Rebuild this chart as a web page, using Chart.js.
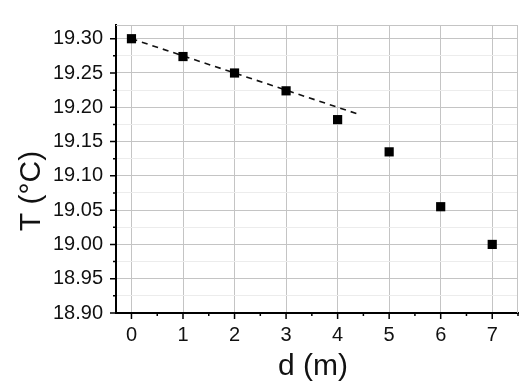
<!DOCTYPE html>
<html>
<head>
<meta charset="utf-8">
<script src="https://cdn.jsdelivr.net/npm/chart.js@4"></script>
<style>
  html, body { margin: 0; padding: 0; background: #fff; }
  canvas { display: block; }
</style>
</head>
<body>
<canvas id="chart" width="530" height="392"></canvas>
<script>
// measured points, d in metres and T in degrees C
const distances = [0, 1, 2, 3, 4, 5, 6, 7];
const temps = [19.30, 19.274, 19.25, 19.224, 19.182, 19.135, 19.055, 19.00];
// dashed linear fit over the first metres
const fitX = [0, 4.4];
const fitY = [19.30, 19.19];

const xTitle = 'd (m)';
const yTitle = 'T (°C)';

const FONT = "'Liberation Sans', Arial, sans-serif";
Chart.defaults.font.family = FONT;
Chart.defaults.color = '#111';

function onStep(v, step) {
  const r = v / step;
  return Math.abs(r - Math.round(r)) < 1e-6;
}

// little tick marks + top/right frame + axis titles
const decor = {
  id: 'decor',
  afterDraw(chart) {
    const ctx = chart.ctx;
    const a = chart.chartArea;
    const xs = chart.scales.x, ys = chart.scales.y;
    ctx.save();
    ctx.strokeStyle = '#c4c4c4';
    ctx.lineWidth = 1;
    ctx.beginPath();
    ctx.moveTo(a.left, a.top + 0.5); ctx.lineTo(a.right, a.top + 0.5);
    ctx.moveTo(a.right - 0.5, a.top); ctx.lineTo(a.right - 0.5, a.bottom);
    ctx.stroke();

    ctx.strokeStyle = '#000';
    ctx.lineWidth = 1.5;
    ctx.beginPath();
    xs.ticks.forEach(t => {
      const px = xs.getPixelForValue(t.value);
      const len = onStep(t.value, 1) ? 6 : 3;
      ctx.moveTo(px, a.bottom); ctx.lineTo(px, a.bottom + len);
    });
    ys.ticks.forEach(t => {
      const py = ys.getPixelForValue(t.value);
      const len = onStep(t.value, 0.05) ? 6 : 3;
      ctx.moveTo(a.left, py); ctx.lineTo(a.left - len, py);
    });
    ctx.stroke();

    ctx.fillStyle = '#111';
    ctx.font = '30px ' + FONT;
    ctx.textAlign = 'center';
    ctx.textBaseline = 'middle';
    ctx.fillText(xTitle, (a.left + a.right) / 2 - 4, 367);
    ctx.translate(32, 191);
    ctx.rotate(-Math.PI / 2);
    ctx.fillText(yTitle, 0, 0);
    ctx.restore();
  }
};

new Chart(document.getElementById('chart'), {
  type: 'scatter',
  data: {
    datasets: [
      {
        label: 'T',
        data: distances.map((d, i) => ({ x: d, y: temps[i] })),
        pointStyle: 'rect',
        pointRadius: 6.5,
        backgroundColor: '#000',
        borderColor: '#000',
        borderWidth: 0
      },
      {
        type: 'line',
        label: 'fit',
        data: fitX.map((d, i) => ({ x: d, y: fitY[i] })),
        borderColor: '#111',
        borderWidth: 1.6,
        borderDash: [6, 5],
        pointRadius: 0,
        fill: false
      }
    ]
  },
  options: {
    responsive: false,
    animation: false,
    layout: { padding: { top: 18, right: 12, left: 0, bottom: 0 } },
    plugins: { legend: { display: false }, tooltip: { enabled: false } },
    scales: {
      x: {
        type: 'linear',
        min: -0.3,
        max: 7.5,
        afterFit(s) { s.height = 79; },
        border: { color: '#000', width: 2 },
        grid: {
          drawTicks: false,
          color: c => onStep(c.tick.value, 1) ? '#c4c4c4' : 'rgba(0,0,0,0)'
        },
        ticks: {
          stepSize: 0.5,
          includeBounds: false,
          autoSkip: false,
          maxRotation: 0,
          padding: 10,
          font: { size: 20 },
          callback: v => onStep(v, 1) ? String(Math.round(v)) : ''
        }
      },
      y: {
        type: 'linear',
        min: 18.9,
        max: 19.32,
        afterFit(s) { s.width = 116; },
        border: { color: '#000', width: 2 },
        grid: {
          drawTicks: false,
          color: c => onStep(c.tick.value, 0.05) ? '#c4c4c4' : '#ececec'
        },
        ticks: {
          stepSize: 0.025,
          includeBounds: false,
          autoSkip: false,
          padding: 13,
          font: { size: 20 },
          callback: v => onStep(v, 0.05) ? v.toFixed(2) : ''
        }
      }
    }
  },
  plugins: [decor]
});
</script>
</body>
</html>
